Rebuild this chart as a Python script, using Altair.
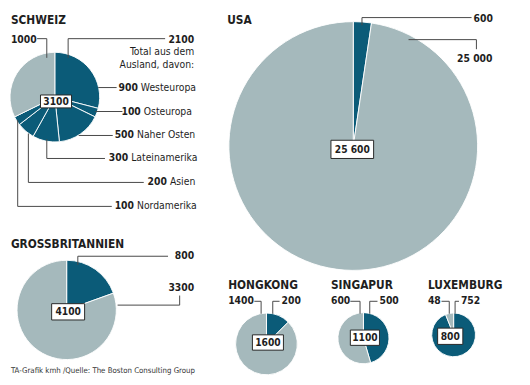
import altair as alt
import pandas as pd

# ---------------- data ----------------
countries = ["Schweiz", "Grossbritannien", "USA", "Hongkong", "Singapur", "Luxemburg"]
titles = ["SCHWEIZ", "GROSSBRITANNIEN", "USA", "HONGKONG", "SINGAPUR", "LUXEMBURG"]
total_labels = ["3100", "4100", "25 600", "1600", "1100", "800"]

# slices, clockwise from 12 o'clock
slice_country = (["Schweiz"] * 7 + ["Grossbritannien"] * 2 + ["USA"] * 2
                 + ["Hongkong"] * 2 + ["Singapur"] * 2 + ["Luxemburg"] * 2)
slice_group = ["Ausland"] * 6 + ["Inland"] + ["Ausland", "Inland"] * 5
slice_value = [900, 100, 500, 300, 200, 100, 1000,
               800, 3300,
               600, 25000,
               200, 1400,
               500, 600,
               752, 48]

# Swiss breakdown
ch_values = ["900", "100", "500", "300", "200", "100"]
ch_regions = ["Westeuropa", "Osteuropa", "Naher Osten", "Lateinamerika", "Asien", "Nordamerika"]

# simple value labels
num_labels_left = ["1000", "600", "25 000", "1400", "200", "600", "500", "48", "752"]
num_labels_right = ["2100", "800", "3300"]
note_lines = ["Total aus dem", "Ausland, davon:"]
footer = "TA-Grafik kmh /Quelle: The Boston Consulting Group"

# ---------------- layout (reference pixel space 530 x 385) ----------------
W, H = 514, 369
KX = W / 530.0
KY = H / 385.0
KR = (KX + KY) / 2
XD = [0, 530]
YD = [0, 385]

pie_cx = [48.3, 60.5, 356, 266.5, 366.5, 459.5]
pie_cy = [93, 315, 144, 350.5, 344.5, 341]
pie_r = [46.5, 51.5, 129, 32, 26.5, 22.7]

title_x = [3, 3, 226, 227, 333, 433]
title_y = [17, 250, 17, 293, 293, 293]

box_cx = [49.5, 62, 355, 268, 368, 456]
box_cy = [97.5, 317, 147.5, 349, 344, 342.5]
box_w = [32, 34, 44, 32, 30, 26]
box_h = [13.5, 17, 19, 16, 16, 17]

left_x = [3, 480, 463, 227, 282, 333, 383, 433, 467]
left_y = [33, 11, 53, 306, 306, 306, 306, 306, 306]
right_x = [192, 192, 192]
right_y = [33, 259, 292]
note_x = [192, 192]
note_y = [46, 59]

ch_name_x = [137, 140, 133, 127, 167, 133]
ch_y = [83, 108, 133, 157, 182, 207]

footer_x, footer_y = 3, 381

leaders = [
    (30, 32, 40, 32), (40, 32, 40, 52),
    (62, 32, 162, 32), (62, 32, 62, 52),
    (93, 83, 112, 83),
    (90, 108, 118, 108),
    (73, 133, 108, 133),
    (40, 137, 40, 157), (40, 157, 100, 157),
    (21, 131, 21, 182), (21, 182, 140, 182),
    (10, 117, 10, 207), (10, 207, 107, 207),
    (72, 259, 165, 259), (72, 259, 72, 268),
    (113, 310, 177, 310), (177, 310, 177, 300),
    (365, 10, 478, 10), (365, 10, 365, 18),
    (413, 33, 483, 33), (483, 33, 483, 43),
    (254, 306, 261, 306), (261, 306, 261, 319),
    (273, 306, 280, 306), (273, 306, 273, 319),
    (353, 306, 363, 306), (363, 306, 363, 319),
    (373, 306, 381, 306), (373, 306, 373, 319),
    (447, 306, 455, 306), (455, 306, 455, 319),
    (461, 306, 465, 306), (461, 306, 461, 319),
]

DARK = "#0b5b78"
LIGHT = "#a5b9bc"
INK = "#1e1e1e"
LINE = "#4a4a4a"
FONT = "DejaVu Sans Condensed, DejaVu Sans, sans-serif"
FS_LABEL = 10.3
FS_TITLE = 11.8
FS_BOX = 10.2
FS_FOOT = 7.8

xs = alt.Scale(domain=XD, nice=False, zero=False)
ys = alt.Scale(domain=YD, nice=False, zero=False, reverse=True)


def X(f):
    return alt.X(f, type="quantitative", scale=xs, axis=None)


def Y(f):
    return alt.Y(f, type="quantitative", scale=ys, axis=None)


# ---------------- tables ----------------
pies = pd.DataFrame({"country": countries, "cx": pie_cx, "cy": pie_cy, "r": pie_r})
slices = pd.DataFrame({"country": slice_country, "group": slice_group,
                       "value": slice_value, "order": range(len(slice_value))})
slices = slices.merge(pies, on="country")

arcs = alt.Chart(slices).transform_joinaggregate(
    total="sum(value)", groupby=["country"]
).transform_window(
    cum="sum(value)", sort=[alt.SortField("order")], groupby=["country"]
).transform_calculate(
    t1="2*PI*(datum.cum - datum.value)/datum.total",
    t2="2*PI*datum.cum/datum.total",
    rad=f"datum.r*{KR}",
).mark_arc(stroke="white", strokeWidth=0.9).encode(
    x=X("cx"), y=Y("cy"),
    theta=alt.Theta("t1:Q", scale=None),
    theta2="t2:Q",
    radius=alt.Radius("rad:Q", scale=None),
    color=alt.Color("group:N", scale=alt.Scale(domain=["Ausland", "Inland"],
                                               range=[DARK, LIGHT]), legend=None),
)

lead_df = pd.DataFrame(leaders, columns=["x1", "y1", "x2", "y2"])
lines = alt.Chart(lead_df).mark_rule(color=LINE, strokeWidth=1).encode(
    x=X("x1"), y=Y("y1"), x2="x2", y2="y2")

box_df = pd.DataFrame({"label": total_labels, "bx": box_cx, "by": box_cy,
                       "bw": box_w, "bh": box_h})
boxes = alt.Chart(box_df).transform_calculate(
    xa="datum.bx - datum.bw/2", xb="datum.bx + datum.bw/2",
    ya="datum.by - datum.bh/2", yb="datum.by + datum.bh/2",
).mark_rect(fill="white", stroke="#2a2a2a", strokeWidth=1).encode(
    x=X("xa"), x2="xb", y=Y("ya"), y2="yb")
box_text = alt.Chart(box_df).mark_text(
    font=FONT, fontWeight="bold", fontSize=FS_BOX, color=INK, baseline="middle",
    align="center", dy=0.5).encode(x=X("bx"), y=Y("by"), text="label:N")

title_df = pd.DataFrame({"t": titles, "x": title_x, "y": title_y})
title_text = alt.Chart(title_df).mark_text(
    font=FONT, fontWeight="bold", fontSize=FS_TITLE, color=INK, align="left",
    baseline="alphabetic").encode(x=X("x"), y=Y("y"), text="t:N")

nl_df = pd.DataFrame({"t": num_labels_left, "x": left_x, "y": left_y})
nl_text = alt.Chart(nl_df).mark_text(
    font=FONT, fontWeight="bold", fontSize=FS_LABEL, color=INK, align="left",
    baseline="middle").encode(x=X("x"), y=Y("y"), text="t:N")

nr_df = pd.DataFrame({"t": num_labels_right, "x": right_x, "y": right_y})
nr_text = alt.Chart(nr_df).mark_text(
    font=FONT, fontWeight="bold", fontSize=FS_LABEL, color=INK, align="right",
    baseline="middle").encode(x=X("x"), y=Y("y"), text="t:N")

note_df = pd.DataFrame({"t": note_lines, "x": note_x, "y": note_y})
note_text = alt.Chart(note_df).mark_text(
    font=FONT, fontSize=FS_LABEL, color=INK, align="right",
    baseline="middle").encode(x=X("x"), y=Y("y"), text="t:N")

ch_df = pd.DataFrame({"v": ch_values, "n": ch_regions, "nx": ch_name_x, "y": ch_y})
ch_vals = alt.Chart(ch_df).mark_text(
    font=FONT, fontWeight="bold", fontSize=FS_LABEL, color=INK, align="right",
    baseline="middle", dx=-3).encode(x=X("nx"), y=Y("y"), text="v:N")
ch_names = alt.Chart(ch_df).mark_text(
    font=FONT, fontSize=FS_LABEL, color=INK, align="left",
    baseline="middle").encode(x=X("nx"), y=Y("y"), text="n:N")

foot_df = pd.DataFrame({"t": [footer], "x": [footer_x], "y": [footer_y]})
foot_text = alt.Chart(foot_df).mark_text(
    font=FONT, fontSize=FS_FOOT, color="#333333", align="left",
    baseline="alphabetic").encode(x=X("x"), y=Y("y"), text="t:N")

chart = alt.layer(
    arcs, lines, boxes, box_text, title_text, nl_text, nr_text, note_text,
    ch_vals, ch_names, foot_text,
).properties(
    width=W, height=H, padding=0, autosize=alt.AutoSizeParams(type="none"),
    background="white",
).configure_view(stroke=None)

chart.save("out.html", embed_options={"renderer": "svg", "actions": False})
